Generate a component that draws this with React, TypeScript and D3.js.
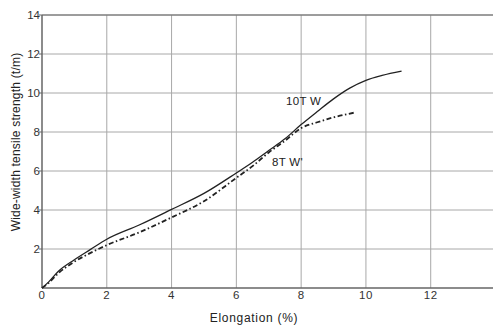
import React from "react";
import * as d3 from "d3";

const xTicks = [0, 2, 4, 6, 8, 10, 12];
const yTicks = [2, 4, 6, 8, 10, 12, 14];
const gridX = [2, 4, 6, 8, 10, 12, 14];
const gridY = [2, 4, 6, 8, 10, 12, 14];

const s10x = [0, 0.2, 0.5, 1, 1.5, 2, 3, 4, 5, 6, 6.5, 7, 7.5, 8, 8.5, 9, 9.5, 10, 10.5, 11.1];
const s10y = [0, 0.3, 0.85, 1.45, 1.98, 2.5, 3.23, 4.03, 4.85, 5.9, 6.45, 7.05, 7.65, 8.38, 9.05, 9.7, 10.25, 10.65, 10.9, 11.12];

const s8x = [0, 0.2, 0.5, 1, 1.5, 2, 3, 4, 5, 6, 6.5, 7, 7.5, 8, 8.5, 9, 9.66];
const s8y = [0, 0.25, 0.75, 1.35, 1.8, 2.2, 2.85, 3.62, 4.45, 5.65, 6.25, 6.95, 7.55, 8.2, 8.5, 8.75, 9.0];

const W = 493, H = 326;
const left = 42, right = 495.5, top = 15, bottom = 288;

export default function App() {
  const x = d3.scaleLinear().domain([0, 14]).range([left, right]);
  const y = d3.scaleLinear().domain([0, 14]).range([bottom, top]);
  const line = d3.line<[number, number]>().x(d => x(d[0])).y(d => y(d[1])).curve(d3.curveMonotoneX);
  const d10 = line(s10x.map((v, i) => [v, s10y[i]] as [number, number])) || "";
  const d8 = line(s8x.map((v, i) => [v, s8y[i]] as [number, number])) || "";
  const font = "'Liberation Sans', Arial, sans-serif";
  return (
    <svg width={W} height={H} style={{ position: "absolute", left: 0, top: 0 }} fontFamily={font}>
      <rect width={W} height={H} fill="#fff" />
      {gridX.map(t => (
        <line key={"gx" + t} x1={x(t)} x2={x(t)} y1={top} y2={bottom} stroke="#a8a8a8" strokeWidth={1} />
      ))}
      {gridY.map(t => (
        <line key={"gy" + t} x1={left} x2={W} y1={y(t)} y2={y(t)} stroke="#a8a8a8" strokeWidth={1} />
      ))}
      <line x1={left} x2={W} y1={top} y2={top} stroke="#666" strokeWidth={1.2} />
      <line x1={left} x2={left} y1={top} y2={bottom} stroke="#666" strokeWidth={1.5} />
      <line x1={left} x2={W} y1={bottom} y2={bottom} stroke="#666" strokeWidth={1.5} />
      {yTicks.map(t => (
        <g key={"yt" + t}>
          <line x1={left - 3} x2={left} y1={y(t)} y2={y(t)} stroke="#666" />
          <text x={left - 2} y={y(t)} dominantBaseline="central" textAnchor="end" fontSize={11.5} fill="#333">{t}</text>
        </g>
      ))}
      {xTicks.map(t => (
        <text key={"xt" + t} x={x(t)} y={bottom + 11} textAnchor="middle" fontSize={11.5} fill="#333" letterSpacing={0.5}>{t}</text>
      ))}
      <path d={d8} fill="none" stroke="#222" strokeWidth={1.8} strokeDasharray="5,2.5,1.5,2.5" />
      <path d={d10} fill="none" stroke="#222" strokeWidth={1.3} />
      <text x={286} y={105} fontSize={11.5} fill="#222" letterSpacing={0.3}>10T W</text>
      <text x={272} y={166} fontSize={11.5} fill="#222" letterSpacing={0.3}>8T W'</text>
      <text x={254} y={322} textAnchor="middle" fontSize={12} fill="#222" letterSpacing={0.7}>Elongation (%)</text>
      <text transform={`translate(19.5,142) rotate(-90)`} textAnchor="middle" fontSize={12} fill="#222" letterSpacing={0.2}>Wide-width tensile strength (t/m)</text>
    </svg>
  );
}
